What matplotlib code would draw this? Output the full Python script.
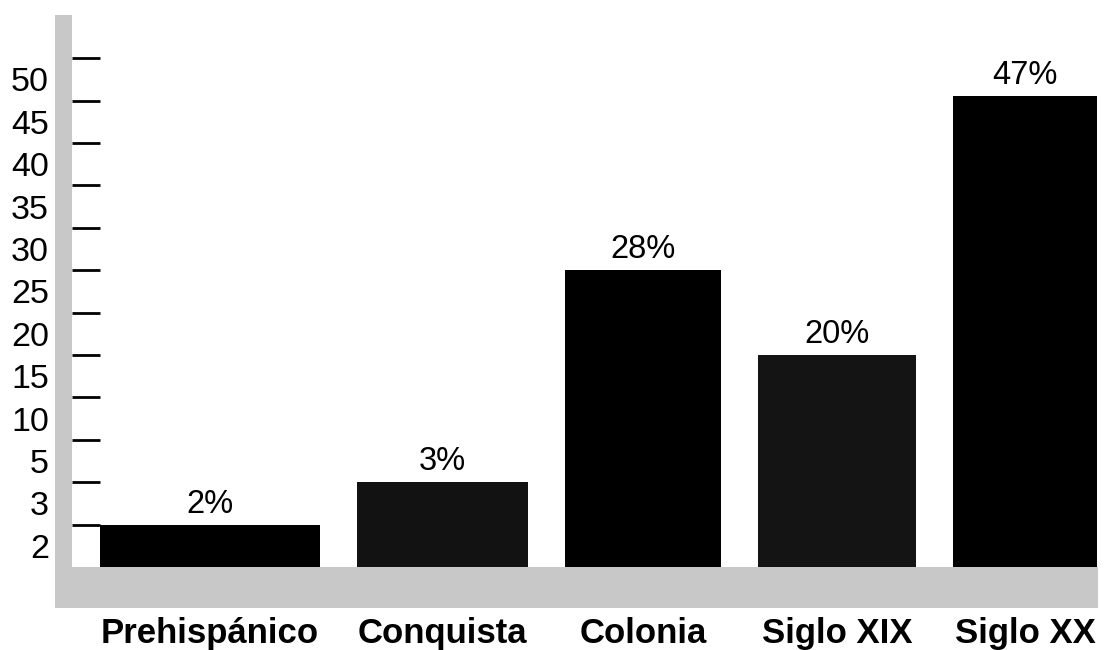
import numpy as np
import matplotlib
matplotlib.use('Agg')
import matplotlib.pyplot as plt
from matplotlib.patches import Rectangle

plt.rcParams['font.family'] = ['Liberation Sans', 'DejaVu Sans']

# Datos
periodos = ['Prehispánico', 'Conquista', 'Colonia', 'Siglo XIX', 'Siglo XX']
porcentajes = [2, 3, 28, 20, 47]
# altura de cada barra en la escala del eje (franjas), tal como está dibujada
alturas = [1, 2, 7, 5, 11.1]
# etiquetas de la escala vertical (una por franja, de abajo hacia arriba)
escala = ['2', '3', '5', '10', '15', '20', '25', '30', '35', '40', '45', '50']

# Estilo / disposición
anchos = [220, 171, 156, 158, 144]   # ancho de cada barra (px)
separacion = 37
inicio = 28
colores = ['#000000', '#121212', '#000000', '#141414', '#000000']
gris = '#c8c8c8'

W, H = 1106, 650
fig = plt.figure(figsize=(W / 100, H / 100), dpi=100)

# ejes: de x=72 a 1100 px, de y=567 (base) a 15 px
ax = fig.add_axes([72 / W, (H - 567) / H, (1100 - 72) / W, (567 - 15) / H])
unidad = 42.4
ax.set_ylim(0, (567 - 15) / unidad)
ax.set_xlim(0, 1100 - 72)

# franjas grises del fondo (eje izquierdo y base)
fig.patches.append(Rectangle((55 / W, (H - 608) / H), 17 / W, (608 - 15) / H,
                             transform=fig.transFigure, color=gris, lw=0))
fig.patches.append(Rectangle((55 / W, (H - 608) / H), (1098 - 55) / W, 41 / H,
                             transform=fig.transFigure, color=gris, lw=0))

# barras
izq = inicio + np.concatenate([[0], np.cumsum(np.array(anchos[:-1]) + separacion)])
centros = izq + np.array(anchos) / 2
ax.bar(izq, alturas, width=anchos, align='edge', color=colores, lw=0)

for c, h, p in zip(centros, alturas, porcentajes):
    ax.text(c, h + 0.12, f'{p}%', ha='center', va='bottom', fontsize=23.5)

# eje vertical: marcas en los límites de franja, etiquetas en el centro
n = len(escala)
ax.set_yticks(np.arange(1, n + 1))
ax.set_yticklabels([])
ax.set_yticks(np.arange(n) + 0.5, minor=True)
ax.set_yticklabels(escala, minor=True, fontsize=24.5)
ax.tick_params(axis='y', which='major', direction='in', length=20.2, width=2,
               color='black')
ax.tick_params(axis='y', which='minor', length=0, pad=16.5)

# eje horizontal
ax.set_xticks(centros)
ax.set_xticklabels(periodos, fontsize=25, fontweight='bold')
ax.tick_params(axis='x', length=0, pad=36)

for s in ax.spines.values():
    s.set_visible(False)
ax.patch.set_alpha(0)

fig.savefig('out.png', dpi=100)
